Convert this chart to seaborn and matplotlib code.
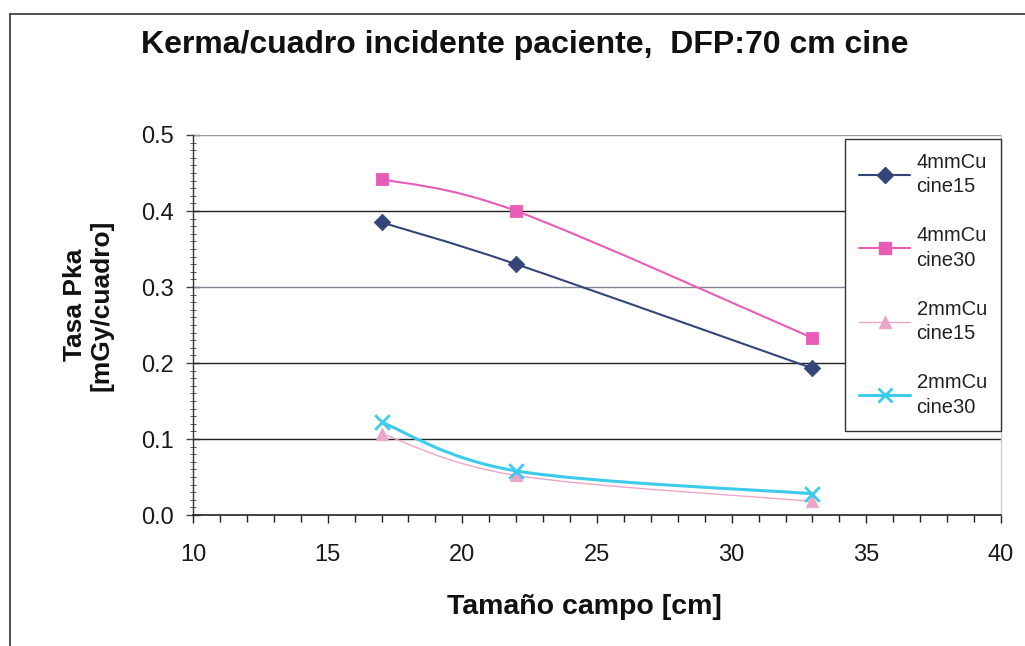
import numpy as np
import pandas as pd
import matplotlib
matplotlib.use("Agg")
import matplotlib.pyplot as plt
from matplotlib.path import Path
from matplotlib.patches import PathPatch
from matplotlib.lines import Line2D
from matplotlib.ticker import MultipleLocator, FormatStrFormatter
import seaborn as sns

# Field sizes (cm) and dose per frame (mGy/cuadro) for each filter / cine rate
campo = [17, 22, 33]
cu4_cine15 = [0.385, 0.330, 0.193]
cu4_cine30 = [0.442, 0.400, 0.233]
cu2_cine15 = [0.107, 0.052, 0.018]
cu2_cine30 = [0.122, 0.058, 0.028]
series_names = ["4mmCu\ncine15", "4mmCu\ncine30", "2mmCu\ncine15", "2mmCu\ncine30"]

colors = ["#34457a", "#e85cb8", "#eaa6c8", "#3ccbea"]
markers = ["D", "s", "^", "x"]
marker_sizes = [70, 80, 80, 110]
line_widths = [1.5, 1.5, 1.0, 2.2]

sns.set_theme(style="white")
plt.rcParams["font.family"] = ["Liberation Sans", "DejaVu Sans"]

df = pd.DataFrame({
    "campo": campo * 4,
    "valor": cu4_cine15 + cu4_cine30 + cu2_cine15 + cu2_cine30,
    "serie": [n for n in series_names for _ in campo],
})

fig = plt.figure(figsize=(10.25, 6.46), dpi=100)
ax = fig.add_axes([193 / 1025, 1 - 515 / 646, 808 / 1025, 380 / 646])


def smooth_path(xs, ys):
    """Cubic Bezier path through the points (spreadsheet-style smoothed line)."""
    pts = np.column_stack([xs, ys]).astype(float)
    n = len(pts)
    verts = [pts[0]]
    codes = [Path.MOVETO]
    for i in range(n - 1):
        p0 = pts[i - 1] if i > 0 else pts[i]
        p1 = pts[i]
        p2 = pts[i + 1]
        p3 = pts[i + 2] if i + 2 < n else pts[i + 1]
        c1 = p1 + (p2 - p0) / 6.0
        c2 = p2 - (p3 - p1) / 6.0
        verts += [c1, c2, p2]
        codes += [Path.CURVE4] * 3
    return Path(verts, codes)


# Horizontal gridlines
for yv, gc in zip([0.1, 0.2, 0.3, 0.4, 0.5], ["#222222", "#222222", "#7f8694", "#222222", "#9a9a9a"]):
    ax.axhline(yv, color=gc, lw=1.0, zorder=1)

# Smoothed series lines and their markers
for name, col, mk, ms, lw in zip(series_names, colors, markers, marker_sizes, line_widths):
    sub = df[df["serie"] == name]
    ax.add_patch(PathPatch(smooth_path(sub["campo"].values, sub["valor"].values),
                           facecolor="none", edgecolor=col, lw=lw, zorder=3))
    if mk == "x":
        sns.scatterplot(data=sub, x="campo", y="valor", color=col, marker=mk, s=ms,
                        linewidth=2.0, legend=False, ax=ax, zorder=4)
    else:
        sns.scatterplot(data=sub, x="campo", y="valor", color=col, marker=mk, s=ms,
                        linewidth=0.6, edgecolor=col, legend=False, ax=ax, zorder=4)

ax.set_xlim(10, 40)
ax.set_ylim(0, 0.5)
ax.xaxis.set_major_locator(MultipleLocator(5))
ax.xaxis.set_minor_locator(MultipleLocator(1))
ax.yaxis.set_major_locator(MultipleLocator(0.1))
ax.yaxis.set_minor_locator(MultipleLocator(0.01))
ax.yaxis.set_major_formatter(FormatStrFormatter("%.1f"))

ax.spines["top"].set_visible(False)
ax.spines["right"].set_color("#cfcfcf")
ax.spines["right"].set_linewidth(1.0)
ax.spines["left"].set_color("#333333")
ax.spines["bottom"].set_color("#222222")
ax.spines["left"].set_linewidth(1.0)
ax.spines["bottom"].set_linewidth(1.2)

ax.tick_params(axis="x", which="major", direction="out", length=6, width=1, color="#222222",
               labelsize=17, pad=15, bottom=True)
ax.tick_params(axis="x", which="minor", direction="out", length=5, width=1, color="#222222", bottom=True)
ax.tick_params(axis="y", which="major", direction="inout", length=10, width=1, color="#444444",
               labelsize=17, pad=9, left=True)
ax.tick_params(axis="y", which="minor", direction="inout", length=5, width=0.7, color="#555555", left=True)
for lab in ax.get_xticklabels() + ax.get_yticklabels():
    lab.set_color("#1a1a1a")

ax.set_xlabel("Tamaño campo [cm]", fontsize=20.5, fontweight="bold", color="#111111")
ax.xaxis.set_label_coords(0.485, -0.242)
ax.xaxis.label.set_va("center")
ax.set_ylabel("Tasa Pka\n[mGy/cuadro]", fontsize=19, fontweight="bold",
              color="#111111", linespacing=1.15)
ax.yaxis.set_label_coords(-0.13, 0.553)
ax.yaxis.label.set_va("center")

fig.text(0.512, 1 - 45 / 646, "Kerma/cuadro incidente paciente,  DFP:70 cm cine",
         ha="center", va="center", fontsize=23, fontweight="bold", color="#111111")

handles = []
for c, m, lw in zip(colors, markers, line_widths):
    if m == "x":
        handles.append(Line2D([0], [0], color=c, lw=lw, marker=m, markersize=10, markeredgewidth=2))
    else:
        handles.append(Line2D([0], [0], color=c, lw=lw, marker=m, markersize=8, markeredgecolor=c))
leg = ax.legend(handles, series_names, loc="upper right", bbox_to_anchor=(1.0, 0.99),
                fontsize=14.5, frameon=True, fancybox=False, framealpha=1,
                edgecolor="#333333", handlelength=2.55, handletextpad=0.3,
                labelspacing=1.5, borderpad=0.7, borderaxespad=0)
leg.get_frame().set_linewidth(1.0)
for t in leg.get_texts():
    t.set_color("#222222")
    t.set_linespacing(1.35)

# Outer frame of the chart area
fig.add_artist(Line2D([10 / 1025, 10 / 1025], [0, 1 - 14 / 646], color="#333333", lw=1.2,
                      transform=fig.transFigure))
fig.add_artist(Line2D([10 / 1025, 1.0], [1 - 14 / 646, 1 - 14 / 646], color="#333333", lw=1.2,
                      transform=fig.transFigure))

fig.savefig("out.png", dpi=100)
